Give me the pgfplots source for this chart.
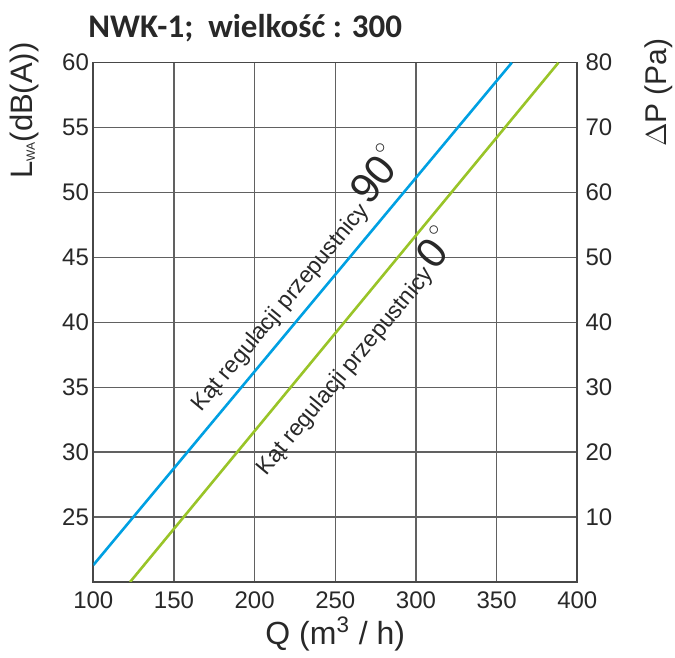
\documentclass[border=0pt]{standalone}
\usepackage{fontspec}
\setmainfont{Liberation Sans}
\newfontfamily\titlefont{Carlito}
\usepackage{pgfplots}
\pgfplotsset{compat=1.18}
\usetikzlibrary{calc}
\definecolor{lineblue}{RGB}{0,160,226}
\definecolor{linegreen}{RGB}{153,196,40}
\definecolor{txt}{RGB}{40,40,40}
\begin{document}
\begin{tikzpicture}
\begin{axis}[
  name=main,
  scale only axis, width=242pt, height=259.65pt,
  xmin=100, xmax=400, ymin=20, ymax=60,
  xtick={100,150,...,400}, ytick={25,30,...,60},
  grid=major, major grid style={line width=0.7pt, color=black!62},
  axis line style={line width=0.8pt, color=black!72},
  tick style={draw=none},
  ticklabel style={font=\fontsize{12}{14}\selectfont, color=txt},
  /pgf/number format/assume math mode=true,
  xticklabel style={inner sep=0pt, yshift=-4.8pt},
  yticklabel style={inner sep=0pt, xshift=-2pt},
]
\addplot[color=lineblue, line width=1.3pt] coordinates {(100,21.3) (359.4,60)};
\addplot[color=linegreen, line width=1.3pt] coordinates {(122.8,20) (388.3,60)};
\node[rotate=50.2, font=\fontsize{11.5}{12}\selectfont, text=txt] at (axis cs:216.4,41.1) {Kąt regulacji przepustnicy};
\node[rotate=50.2, font=\fontsize{11.5}{12}\selectfont, text=txt] at (axis cs:256.4,36.2) {Kąt regulacji przepustnicy};
\node[rotate=50.2, font=\fontsize{21}{21}\selectfont, text=txt] at (axis cs:273.3,51.05) {90};
\node[rotate=50.2, font=\fontsize{21}{21}\selectfont, text=txt] at (axis cs:310,45.3) {0};
\node[inner sep=0pt, font=\fontsize{11}{11}\selectfont, text=txt] at (axis cs:277.8,53.4) {$\circ$};
\node[inner sep=0pt, font=\fontsize{11}{11}\selectfont, text=txt] at (axis cs:311.1,47.1) {$\circ$};
\end{axis}
\begin{axis}[
  scale only axis, width=242pt, height=259.65pt,
  xmin=100, xmax=400, ymin=0, ymax=80,
  hide x axis,
  axis y line*=right,
  y axis line style={draw=none},
  ytick={10,20,...,80},
  tick style={draw=none},
  ticklabel style={font=\fontsize{12}{14}\selectfont, color=txt},
  /pgf/number format/assume math mode=true,
  yticklabel style={inner sep=0pt, xshift=3.9pt},
]
\end{axis}
\node[anchor=base west, inner sep=0pt, font=\titlefont\bfseries\fontsize{16.5}{18}\selectfont, text=txt] at ($(main.south west)+(-2.65pt,272pt)$) {NWK-1;\ \ wielkość : 300};
\node[anchor=base, inner sep=0pt, font=\fontsize{16}{18}\selectfont, text=txt] at ($(main.south)+(0,-31.5pt)$) {Q (m\textsuperscript{3} / h)};
\node[rotate=90, anchor=base east, inner sep=0pt, font=\fontsize{15.5}{18}\selectfont, text=txt] at ($(main.south west)+(-30.15pt,270pt)$) {L\raisebox{-1pt}{\fontsize{6}{6}\selectfont WA}(dB(A))};
\node[rotate=90, anchor=base east, inner sep=0pt, font=\fontsize{15}{18}\selectfont, text=txt] at ($(main.south west)+(286.35pt,272pt)$) {$\Delta$P (Pa)};
\pgfresetboundingbox
\path[use as bounding box] ($(main.south west)+(-46.65pt,-38pt)$) rectangle ($(main.north east)+(48.85pt,31.35pt)$);
\end{tikzpicture}
\end{document}
